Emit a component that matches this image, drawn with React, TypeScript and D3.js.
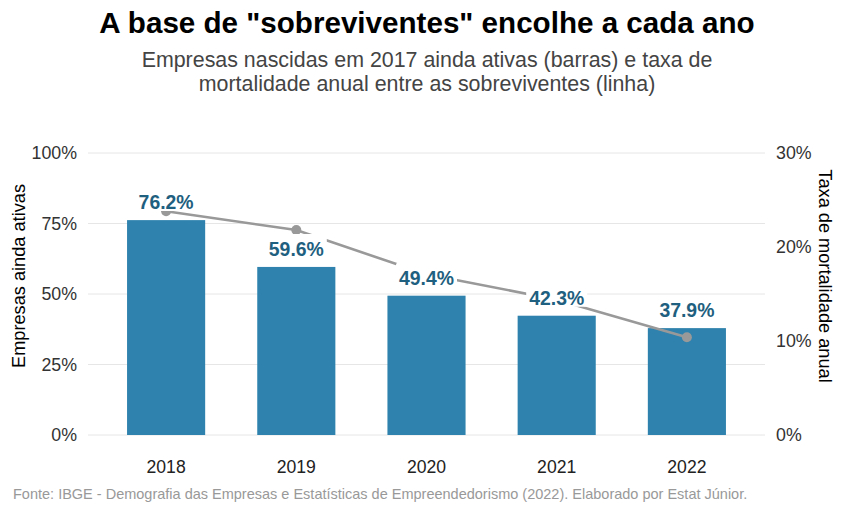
import React from "react";
import * as d3 from "d3";

const years = ["2018", "2019", "2020", "2021", "2022"];
const activeShare = [76.2, 59.6, 49.4, 42.3, 37.9];
const mortalityRate = [23.8, 21.8, 17.1, 14.4, 10.4];
const leftTicks = [0, 25, 50, 75, 100];
const rightTicks = [0, 10, 20, 30];

const W = 845;
const H = 512;
const FONT = "'Liberation Sans', Arial, sans-serif";
const LABEL_FS = 19.4;

export default function App() {
  const x = d3.scalePoint<string>().domain(years).range([88, 765]).padding(0.6);
  const barW = x.step() * 0.6;
  const yL = d3.scaleLinear().domain([0, 100]).range([435, 153]);
  const yR = d3.scaleLinear().domain([0, 30]).range([435, 153]);
  const cx = (y: string) => x(y) as number;

  const line = d3
    .line<number>()
    .x((_, i) => cx(years[i]))
    .y((d) => yR(d));

  // advance width of "dd.d%" in Liberation Sans Bold
  const labelW = (s: string) => 2.835 * LABEL_FS * (s.length / 5);

  return (
    <svg width={W} height={H} style={{ position: "absolute", left: 0, top: 0, background: "#fff" }}>
      <rect width={W} height={H} fill="#fff" />
      <text x={427} y={33} textAnchor="middle" fontFamily={FONT} fontWeight="bold" fontSize={29.6} fill="#000">
        A base de "sobreviventes" encolhe a cada ano
      </text>
      <text x={427} y={67} textAnchor="middle" fontFamily={FONT} fontSize={21.4} fill="#444">
        Empresas nascidas em 2017 ainda ativas (barras) e taxa de
      </text>
      <text x={427} y={91} textAnchor="middle" fontFamily={FONT} fontSize={21.4} fill="#444">
        mortalidade anual entre as sobreviventes (linha)
      </text>

      {leftTicks.map((t) => (
        <g key={"l" + t}>
          <line x1={88} x2={765} y1={yL(t)} y2={yL(t)} stroke="#e6e6e6" strokeWidth={1} />
          <text x={77} y={yL(t) + 6} textAnchor="end" fontFamily={FONT} fontSize={17.8} fill="#333">
            {t}%
          </text>
        </g>
      ))}
      {rightTicks.map((t) => (
        <text key={"r" + t} x={776} y={yR(t) + 6} textAnchor="start" fontFamily={FONT} fontSize={17.8} fill="#333">
          {t}%
        </text>
      ))}

      {years.map((y, i) => (
        <rect key={y} x={cx(y) - barW / 2} y={yL(activeShare[i])} width={barW} height={yL(0) - yL(activeShare[i])} fill="#2e82ad" />
      ))}

      <path d={line(mortalityRate) || ""} fill="none" stroke="#999" strokeWidth={2.6} />
      {years.map((y, i) => (
        <circle key={"p" + y} cx={cx(y)} cy={yR(mortalityRate[i])} r={5} fill="#999" />
      ))}

      {years.map((y, i) => {
        const s = activeShare[i].toFixed(1) + "%";
        const base = yL(activeShare[i]) - 11;
        const w = labelW(s);
        return (
          <g key={"lab" + y}>
            <rect x={cx(y) - w / 2 - 3} y={base - 22} width={w + 6} height={24} fill="#fff" rx={2} />
            <text x={cx(y)} y={base} textAnchor="middle" fontFamily={FONT} fontWeight="bold" fontSize={LABEL_FS} fill="#1f5f80">
              {s}
            </text>
          </g>
        );
      })}

      {years.map((y) => (
        <text key={"x" + y} x={cx(y)} y={473} textAnchor="middle" fontFamily={FONT} fontSize={17.6} fill="#222">
          {y}
        </text>
      ))}

      <text transform="translate(25,276) rotate(-90)" textAnchor="middle" fontFamily={FONT} fontSize={18.2} fill="#000">
        Empresas ainda ativas
      </text>
      <text transform="translate(819,276) rotate(90)" textAnchor="middle" fontFamily={FONT} fontSize={18.2} fill="#000">
        Taxa de mortalidade anual
      </text>

      <text x={13} y={499} fontFamily={FONT} fontSize={14.5} fill="#999">
        Fonte: IBGE - Demografia das Empresas e Estatísticas de Empreendedorismo (2022). Elaborado por Estat Júnior.
      </text>
    </svg>
  );
}
